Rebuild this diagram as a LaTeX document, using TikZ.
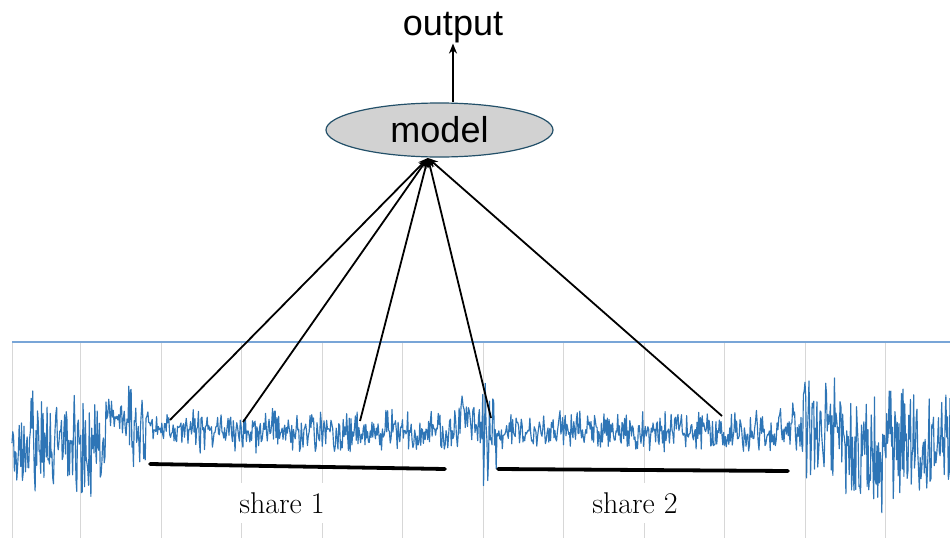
\documentclass[tikz,border=0pt]{standalone}
\usepackage{fontspec}
\newfontfamily\arialfont{Liberation Sans}
\usetikzlibrary{arrows.meta,shapes.geometric}
\definecolor{sigblue}{RGB}{46,117,182}
\definecolor{toplineblue}{RGB}{120,165,215}
\definecolor{gridgray}{RGB}{215,215,215}
\definecolor{modelfill}{RGB}{210,210,210}
\definecolor{modeledge}{RGB}{35,80,105}
\tikzset{
  gridline/.style={gridgray, line width=1pt},
  signal/.style={sigblue, line width=1.15pt, line join=round},
  sharebar/.style={black, line width=3.8pt, line cap=round},
  feed/.style={black, line width=1.8pt, -{Stealth[length=10pt,width=8pt]}},
  sharelabel/.style={fill=white, inner xsep=4pt, inner ysep=9pt, font=\fontsize{30}{33}\selectfont},
  bigsans/.style={font=\arialfont\fontsize{36}{40}\selectfont}
}
\begin{document}
\begin{tikzpicture}[x=1pt,y=-1pt]
\useasboundingbox (0,0) rectangle (950,538);
\fill[white] (0,0) rectangle (950,538);
% grid
\foreach \gx in {12,80.5,161,241.5,322,402.5,483,563.5,644,724.5,805,885.5}
  \draw[gridline] (\gx,342) -- (\gx,538);
\draw[toplineblue, line width=1.2pt] (12,342) -- (950,342);
% signal
\pgfmathsetseed{11}
\draw[signal]
  plot[domain=12:75, samples=80] (\x,{440+30*(rand+rand)})
  -- plot[domain=76:105, samples=38] (\x,{452+34*(rand+rand)})
  -- plot[domain=106:127, samples=24] (\x,{418+11*(rand+rand)})
  -- plot[domain=128:146, samples=24] (\x,{427+28*(rand+rand)})
  -- plot[domain=147:460, samples=360] (\x,{431+12*(rand+rand)})
  -- plot[domain=461:475, samples=14] (\x,{418+14*(rand+rand)})
  -- plot[domain=476:497, samples=26] (\x,{432+30*(rand+rand)})
  -- plot[domain=498:790, samples=340] (\x,{431+12*(rand+rand)})
  -- plot[domain=791:800, samples=11] (\x,{428+17*(rand+rand)})
  -- plot[domain=801:840, samples=50] (\x,{432+30*(rand+rand)})
  -- plot[domain=841:930, samples=110] (\x,{446+36*(rand+rand)})
  -- plot[domain=931:950, samples=24] (\x,{435+32*(rand+rand)});
% share bars
\coordinate (b1s) at (150,464);
\coordinate (b1e) at (445,469);
\coordinate (b2s) at (498,469);
\coordinate (b2e) at (788,471);
\draw[sharebar] (b1s) -- (b1e);
\draw[sharebar] (b2s) -- (b2e);
\node[sharelabel] (lab1) at (282,503) {share 1};
\node[sharelabel] (lab2) at (635,503) {share 2};
% model and output
\node[ellipse, draw=modeledge, line width=1.2pt, fill=modelfill, minimum width=227pt, minimum height=54pt, inner sep=0pt, bigsans] (model) at (439.5,130) {model};
\node[bigsans, inner sep=0pt] (out) at (453,28) {output};
\coordinate (mtop) at (453,102);
\coordinate (hub) at (428,158);
\draw[feed] (mtop) -- (out.south);
% input points
\coordinate (s1) at (170,420);
\coordinate (s2) at (243,422);
\coordinate (s3) at (360,421);
\coordinate (s4) at (491,418);
\coordinate (s5) at (722,416);
\foreach \s in {s1,s2,s3,s4,s5}
  \draw[feed] (\s) -- (hub);
\end{tikzpicture}
\end{document}
